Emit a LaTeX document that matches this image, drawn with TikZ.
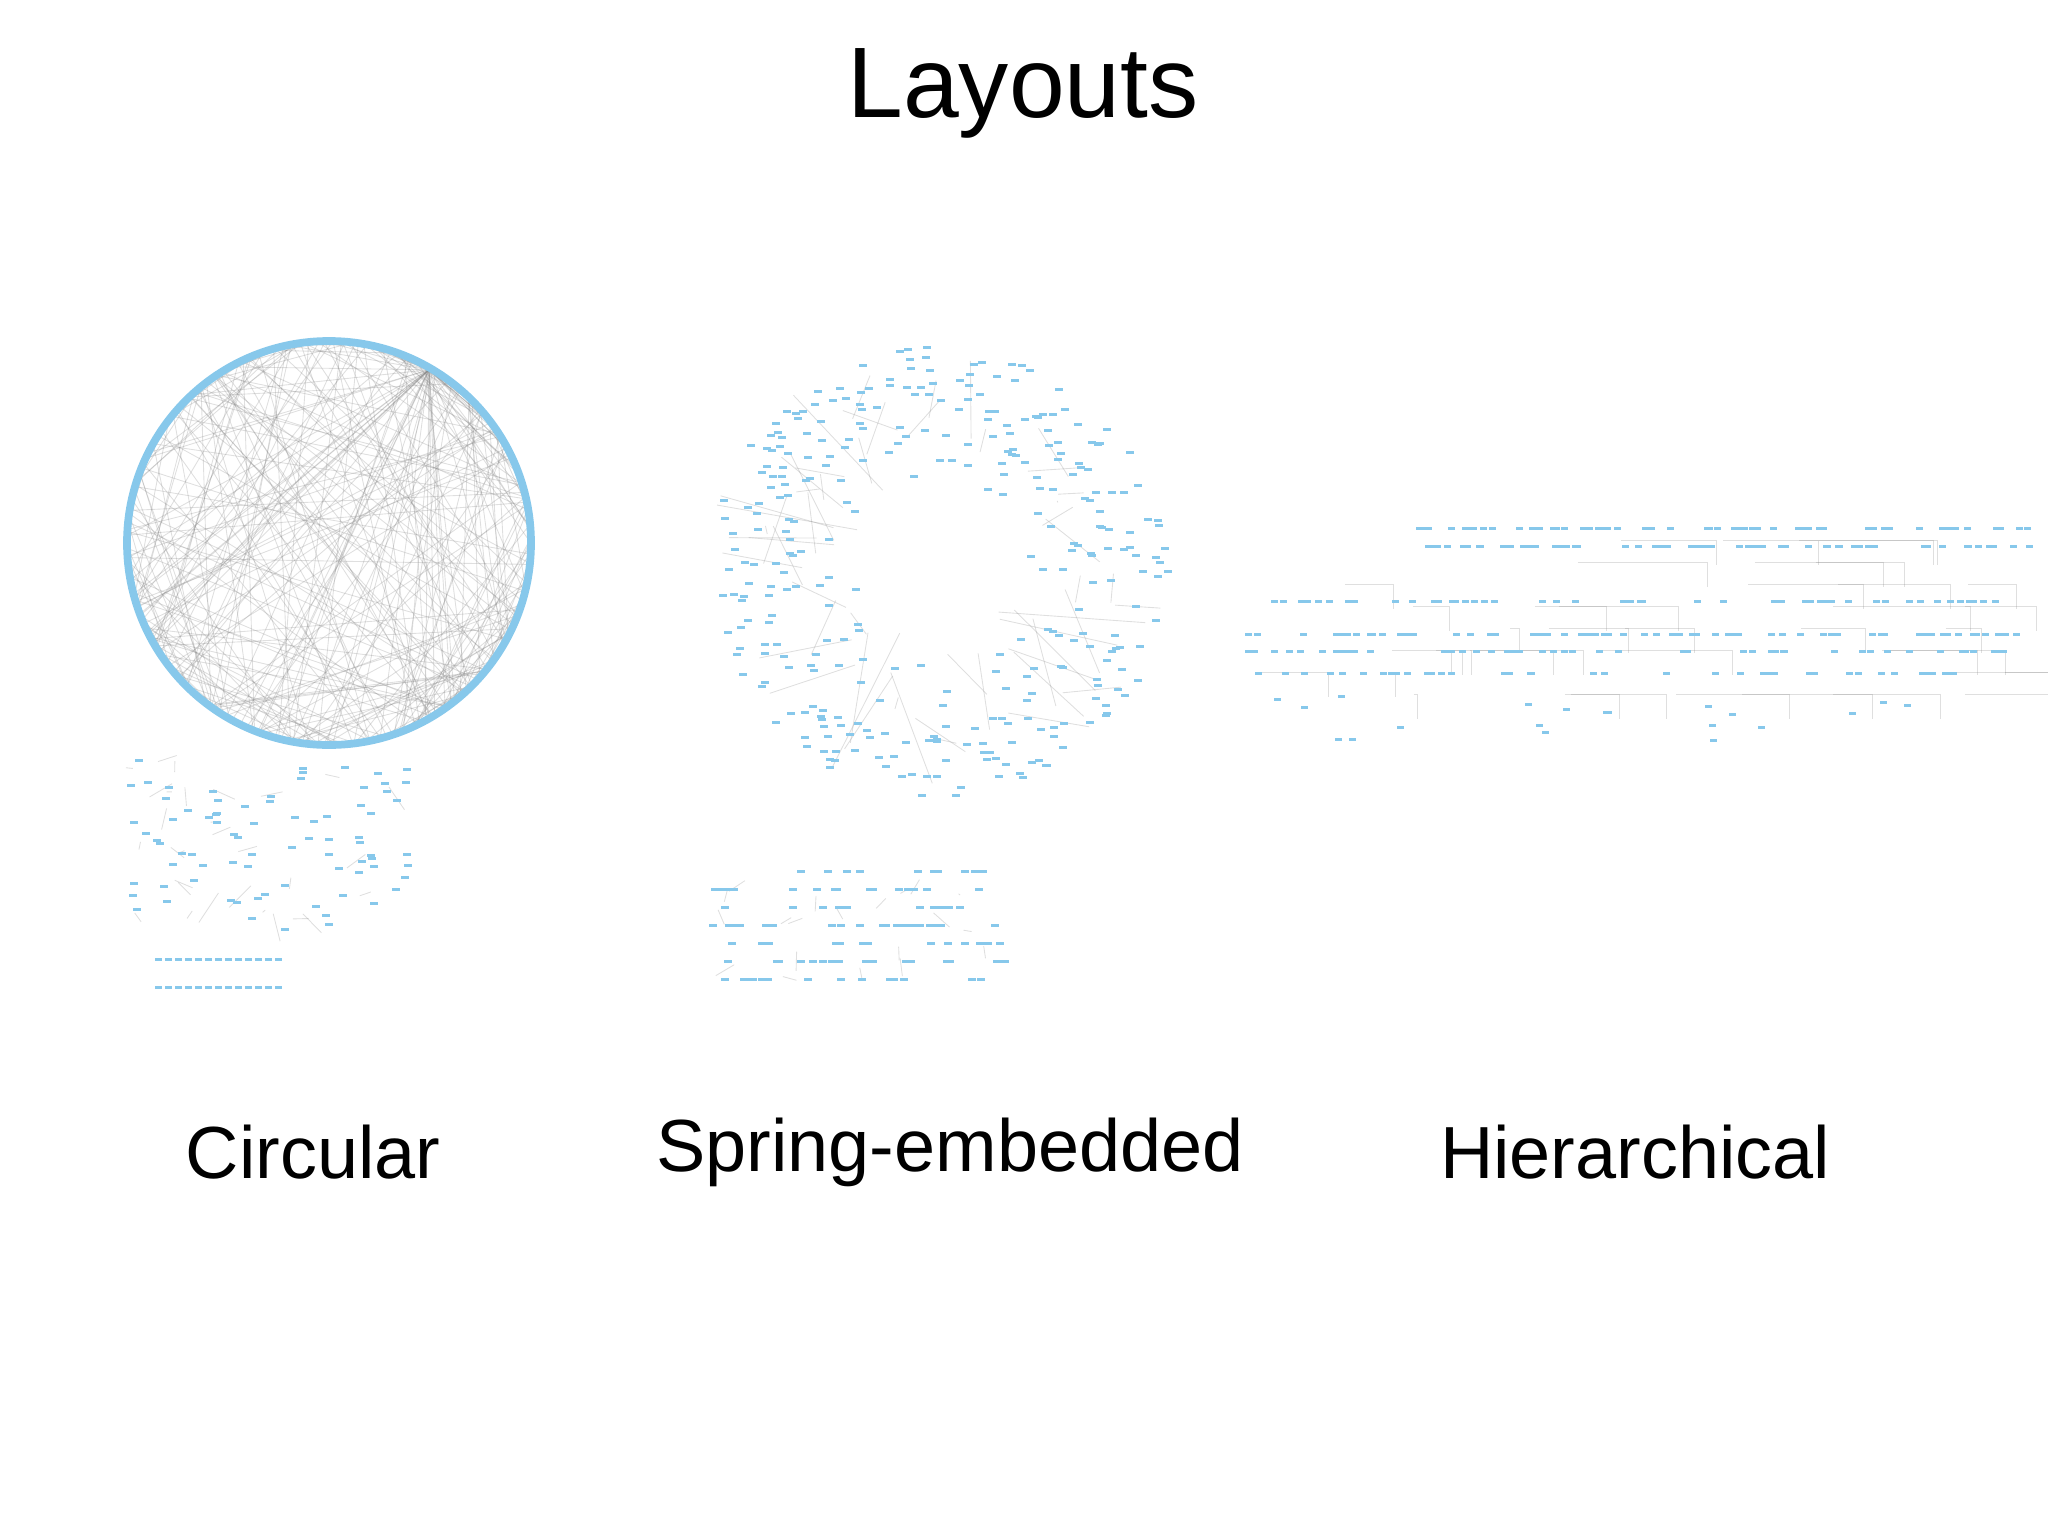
\documentclass[tikz,border=0pt]{standalone}
\usepackage{fontspec}
\setmainfont{Liberation Sans}
\begin{document}
\begin{tikzpicture}[x=0.01cm,y=-0.01cm,
  ed/.style={gray, line width=0.25pt, opacity=0.25},
  lbl/.style={font=\fontsize{21}{24}\selectfont}]
\definecolor{nblue}{RGB}{135,200,235}
\useasboundingbox (0,0) rectangle (2048,1536);
\pgfmathsetseed{7}
% title and labels
\node[font=\fontsize{28.5}{32}\selectfont] (title) at (1023,93) {Layouts};
\node[lbl] (lc) at (313,1152) {Circular};
\node[lbl] (ls) at (950,1152) {Spring-embedded};
\node[lbl] (lh) at (1635,1152) {Hierarchical};
% circular layout
\foreach \i in {1,...,220}{
  \pgfmathsetmacro{\a}{360*rnd}\pgfmathsetmacro{\b}{360*rnd}
  \draw[ed] (329+200*cos \a,543+200*sin \a) -- (329+200*cos \b,543+200*sin \b);}
\foreach \i in {1,...,45}{
  \pgfmathsetmacro{\b}{360*rnd}
  \draw[ed] (329+200*cos 300,543+200*sin 300) -- (329+200*cos \b,543+200*sin \b);}
\draw[nblue, line width=2.2pt] (329,543) circle (202);
% small graph under circle
\foreach \i in {1,...,30}{
  \pgfmathsetmacro{\x}{124+280*rnd}\pgfmathsetmacro{\y}{760+160*rnd}
  \pgfmathsetmacro{\u}{\x+50*rnd-25}\pgfmathsetmacro{\v}{\y+40*rnd-10}
  \draw[ed] (\x,\y) -- (\u,\v);}
\foreach \i in {1,...,80}{
  \pgfmathsetmacro{\x}{124+280*rnd}\pgfmathsetmacro{\y}{758+170*rnd}
  \fill[nblue] (\x,\y) rectangle +(8,3);}
\foreach \i in {0,...,12}{\fill[nblue] (155+\i*10,986) rectangle +(7,3);
  \fill[nblue] (155+\i*10,958) rectangle +(7,3);}
% spring layout
\foreach \i in {1,...,55}{
  \pgfmathsetmacro{\a}{360*rnd}\pgfmathsetmacro{\r}{0.4+0.6*sqrt(rnd)}
  \pgfmathsetmacro{\c}{\a+50*rnd-25}\pgfmathsetmacro{\s}{0.3+0.5*rnd}
  \draw[ed] (937+230*\r*cos \a,570+225*\r*sin \a) -- (937+230*\s*cos \c,570+225*\s*sin \c);}
\foreach \i in {1,...,330}{
  \pgfmathsetmacro{\a}{360*rnd}\pgfmathsetmacro{\r}{0.35+0.65*sqrt(rnd)}
  \fill[nblue] (937+230*\r*cos \a,570+225*\r*sin \a) rectangle +(8,3);}
\foreach \i in {1,...,20}{
  \pgfmathsetmacro{\x}{710+280*rnd}\pgfmathsetmacro{\y}{872+110*rnd}
  \draw[ed] (\x,\y) -- ++(40*rnd-20,20*rnd);}
\foreach \i in {1,...,110}{
  \pgfmathsetmacro{\x}{708+295*rnd}\pgfmathsetmacro{\y}{870+(int(rnd*7))*18}
  \fill[nblue] (\x,\y) rectangle +(8,3);}
% hierarchical layout
\foreach \i in {1,...,40}{
  \pgfmathsetmacro{\x}{1240+780*rnd}\pgfmathsetmacro{\w}{150*rnd}
  \pgfmathsetmacro{\y}{540+(int(rnd*8))*22}
  \draw[ed] (\x,\y) -- ++(\w,0) -- ++(0,25);}
\foreach \i in {1,...,70}{\pgfmathsetmacro{\x}{1410+620*rnd}\fill[nblue] (\x,527) rectangle +(7,3);}
\foreach \i in {1,...,60}{\pgfmathsetmacro{\x}{1420+610*rnd}\fill[nblue] (\x,545) rectangle +(7,3);}
\foreach \i in {1,...,50}{\pgfmathsetmacro{\x}{1260+770*rnd}\fill[nblue] (\x,600) rectangle +(7,3);}
\foreach \i in {1,...,70}{\pgfmathsetmacro{\x}{1236+790*rnd}\fill[nblue] (\x,633) rectangle +(7,3);}
\foreach \i in {1,...,50}{\pgfmathsetmacro{\x}{1236+770*rnd}\fill[nblue] (\x,650) rectangle +(7,3);}
\foreach \i in {1,...,40}{\pgfmathsetmacro{\x}{1240+720*rnd}\fill[nblue] (\x,672) rectangle +(7,3);}
\foreach \i in {1,...,20}{\pgfmathsetmacro{\x}{1240+700*rnd}\pgfmathsetmacro{\y}{690+50*rnd}\fill[nblue] (\x,\y) rectangle +(7,3);}
\end{tikzpicture}
\end{document}
